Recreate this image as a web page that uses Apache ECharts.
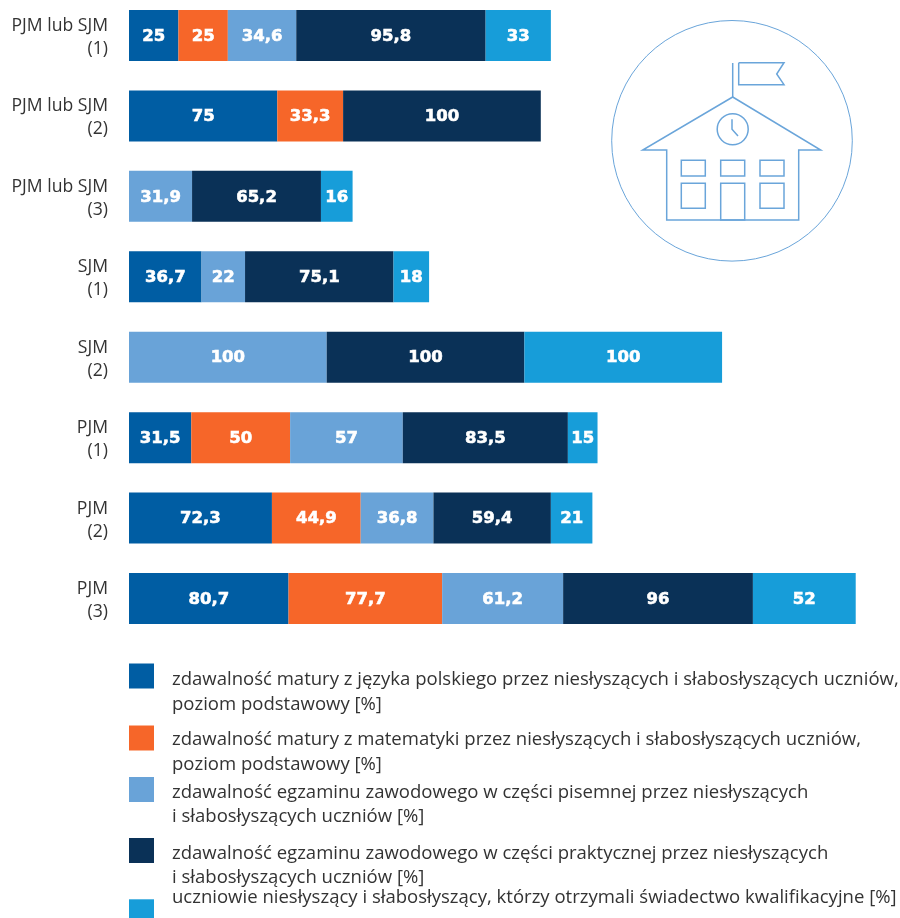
<!DOCTYPE html>
<html>
<head>
<meta charset="utf-8">
<style>html,body{margin:0;padding:0;background:#fff;overflow:hidden}</style>
<script src="https://cdn.jsdelivr.net/npm/echarts@6/dist/echarts.min.js"></script>
</head>
<body>
<div id="chart" style="width:900px;height:918px"></div>
<script>
var categories = ['PJM lub SJM\n(1)', 'PJM lub SJM\n(2)', 'PJM lub SJM\n(3)', 'SJM\n(1)', 'SJM\n(2)', 'PJM\n(1)', 'PJM\n(2)', 'PJM\n(3)'];
var maturaPolski = [25, 75, null, 36.7, null, 31.5, 72.3, 80.7];
var maturaMatematyka = [25, 33.3, null, null, null, 50, 44.9, 77.7];
var egzaminPisemny = [34.6, null, 31.9, 22, 100, 57, 36.8, 61.2];
var egzaminPraktyczny = [95.8, 100, 65.2, 75.1, 100, 83.5, 59.4, 96];
var swiadectwo = [33, null, 16, 18, 100, 15, 21, 52];
var seriesNames = [
    'zdawalność matury z języka polskiego przez niesłyszących i słabosłyszących uczniów,\npoziom podstawowy [%]',
    'zdawalność matury z matematyki przez niesłyszących i słabosłyszących uczniów,\npoziom podstawowy [%]',
    'zdawalność egzaminu zawodowego w części pisemnej przez niesłyszących\ni słabosłyszących uczniów [%]',
    'zdawalność egzaminu zawodowego w części praktycznej przez niesłyszących\ni słabosłyszących uczniów [%]',
    'uczniowie niesłyszący i słabosłyszący, którzy otrzymali świadectwo kwalifikacyjne [%]'
];
var seriesValues = [maturaPolski, maturaMatematyka, egzaminPisemny, egzaminPraktyczny, swiadectwo];
var colorList = ['#005da3', '#f66629', '#69a3d8', '#0a3157', '#179dd9'];
// gorna krawedz legendy i odstep pierwszej linii tekstu od srodka kwadracika
var legendTops = [651, 713, 764.5, 825.5, 887.8];
var legendTextShift = [4, 1.8, 3.2, 3.2, -14.5];

var textColor = '#333333';
var iconColor = '#6aa5da';
var textFont = '"Open Sans"';
var legendLine = 24.5;

var myChart = echarts.init(document.getElementById('chart'), null, {renderer: 'canvas'});

// szkoła w kółku, prawy górny róg
function iconLine(points) {
    return {
        type: 'polyline',
        shape: {points: points},
        style: {fill: null, stroke: iconColor, lineWidth: 1.5}
    };
}
function iconRect(x, y, w, h) {
    return {
        type: 'rect',
        shape: {x: x, y: y, width: w, height: h},
        style: {fill: null, stroke: iconColor, lineWidth: 1.5}
    };
}
var schoolIcon = [
    {type: 'circle', shape: {cx: 732, cy: 140.8, r: 120.3}, style: {fill: null, stroke: iconColor, lineWidth: 1}},
    iconLine([[732.7, 63], [732.7, 97]]),
    iconLine([[738.7, 62.7], [784, 62.7], [776.7, 74], [784, 84.7], [738.7, 84.7], [738.7, 62.7]]),
    iconLine([[732.7, 97], [642.7, 150], [666.7, 150], [666.7, 220], [798.7, 220], [798.7, 150], [820.7, 150], [732.7, 97]]),
    {type: 'circle', shape: {cx: 732.7, cy: 129.3, r: 15.5}, style: {fill: null, stroke: iconColor, lineWidth: 1.5}},
    iconLine([[732, 119.3], [732, 129.3], [738, 136]]),
    iconRect(681.3, 160.3, 24, 15.7),
    iconRect(720.7, 160.3, 24, 15.7),
    iconRect(760, 160.3, 24, 15.7),
    iconRect(681.3, 183.3, 24, 25),
    iconRect(720.7, 183.3, 24, 36.7),
    iconRect(760, 183.3, 24, 25)
];

// legenda: osobny komponent na kazda pozycje, bo odstepy sa nierowne
function legendItem(name, i) {
    var lines = name.split('\n');
    var shift = legendTextShift[i];
    var spacer = Math.abs(2 * shift + legendLine * (lines.length - 1));
    return {
        data: [name],
        left: 129,
        top: legendTops[i],
        padding: 0,
        itemWidth: 25,
        itemHeight: 25,
        icon: 'rect',
        selectedMode: false,
        formatter: function (n) {
            var body = n.split('\n').map(function (l) { return '{t|' + l + '}'; }).join('\n');
            return shift > 0 ? '{s| }\n' + body : body + '\n{s| }';
        },
        textStyle: {
            rich: {
                t: {
                    fontFamily: textFont,
                    fontSize: 18.55,
                    lineHeight: legendLine,
                    color: textColor,
                    padding: [0, 0, 0, 13]
                },
                s: {fontSize: 1, lineHeight: spacer}
            }
        }
    };
}

var option = {
    animation: false,
    backgroundColor: '#ffffff',
    color: colorList,
    grid: {left: 129, right: 0, top: -4.7, height: 643.4, outerBoundsMode: 'none'},
    xAxis: {
        type: 'value',
        min: 0,
        max: 390,
        show: false
    },
    yAxis: {
        type: 'category',
        inverse: true,
        data: categories,
        axisLine: {show: false},
        axisTick: {show: false},
        axisLabel: {
            margin: 21,
            formatter: function (value) {
                var parts = value.split('\n');
                return '{s| }\n{a|' + parts[0] + '}\n{a|' + parts[1] + '}';
            },
            rich: {
                a: {
                    fontFamily: textFont,
                    fontSize: 17.6,
                    lineHeight: 23,
                    color: textColor
                },
                s: {fontSize: 1, lineHeight: 4}
            }
        }
    },
    legend: seriesNames.map(legendItem),
    series: seriesNames.map(function (name, i) {
        return {
            name: name,
            type: 'bar',
            stack: 'razem',
            barWidth: 51,
            data: seriesValues[i],
            itemStyle: {color: colorList[i]},
            label: {
                show: true,
                position: 'inside',
                offset: [0, 1],
                color: '#ffffff',
                fontFamily: '"DejaVu Sans"',
                fontWeight: 'bold',
                fontSize: 16.5,
                textBorderColor: '#ffffff',
                textBorderWidth: 0.6,
                formatter: function (param) {
                    return String(param.value).replace('.', ',');
                }
            }
        };
    }),
    graphic: schoolIcon
};
myChart.setOption(option);
</script>
</body>
</html>
